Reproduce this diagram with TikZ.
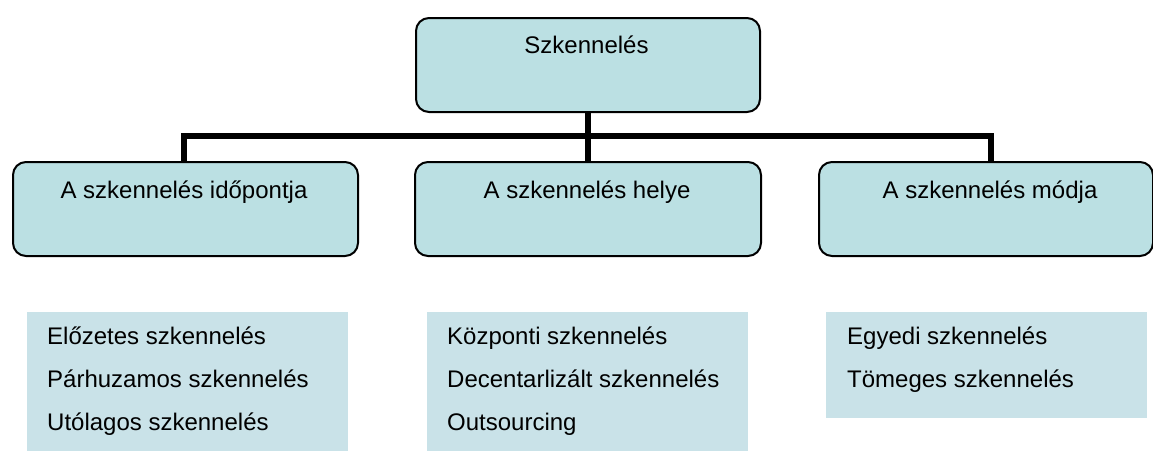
\documentclass[tikz,border=0pt]{standalone}
\usepackage{fontspec}
\setmainfont{Liberation Sans}
\begin{document}
\begin{tikzpicture}[x=1pt,y=-1pt,
  boxfill/.style={fill={rgb,255:red,187;green,224;blue,227}},
  catbox/.style={boxfill,draw=black,line width=2pt,rounded corners=13pt,
    inner sep=0pt,anchor=north west},
  listbox/.style={fill={rgb,255:red,201;green,226;blue,232},inner sep=0pt,anchor=north west},
  boxtext/.style={font=\fontsize{24}{28}\selectfont,anchor=base,inner sep=0pt},
  itemtext/.style={font=\fontsize{24}{28}\selectfont,anchor=base west,inner sep=0pt},
  conn/.style={line width=6pt,line join=miter}]
\useasboundingbox (0,0) rectangle (1153,450);
\clip (0,0) rectangle (1153,450);
% category boxes
\node[catbox,minimum width=344pt,minimum height=94pt] (top) at (415,17) {};
\node[catbox,minimum width=345pt,minimum height=94pt] (b1) at (12,161) {};
\node[catbox,minimum width=346pt,minimum height=94pt] (b2) at (414,161) {};
\node[catbox,minimum width=334pt,minimum height=94pt] (b3) at (818,161) {};
\node[boxtext] (ttop) at (586.5,53) {Szkennelés};
\node[boxtext] (tb1) at (184,198) {A szkennelés időpontja};
\node[boxtext] (tb2) at (587,198) {A szkennelés helye};
\node[boxtext] (tb3) at (990,198) {A szkennelés módja};
% connectors
\coordinate (j1) at (184,136);
\coordinate (j2) at (588,136);
\coordinate (j3) at (991,136);
\draw[conn] (j1 |- b1.north) -- (j1) -- (j3) -- (j3 |- b3.north);
\draw[conn] (j2 |- top.south) -- (j2) -- (j2 |- b2.north);
% list boxes
\node[listbox,minimum width=321pt,minimum height=140pt] (L1) at (27,312) {};
\node[listbox,minimum width=321pt,minimum height=140pt] (L2) at (427,312) {};
\node[listbox,minimum width=321pt,minimum height=106pt] (L3) at (826,312) {};
\node[itemtext] (L1a) at (47,344) {Előzetes szkennelés};
\node[itemtext] (L1b) at (47,387) {Párhuzamos szkennelés};
\node[itemtext] (L1c) at (47,430) {Utólagos szkennelés};
\node[itemtext] (L2a) at (447,344) {Központi szkennelés};
\node[itemtext] (L2b) at (447,387) {Decentarlizált szkennelés};
\node[itemtext] (L2c) at (447,430) {Outsourcing};
\node[itemtext] (L3a) at (847,344) {Egyedi szkennelés};
\node[itemtext] (L3b) at (847,387) {Tömeges szkennelés};
\end{tikzpicture}
\end{document}
